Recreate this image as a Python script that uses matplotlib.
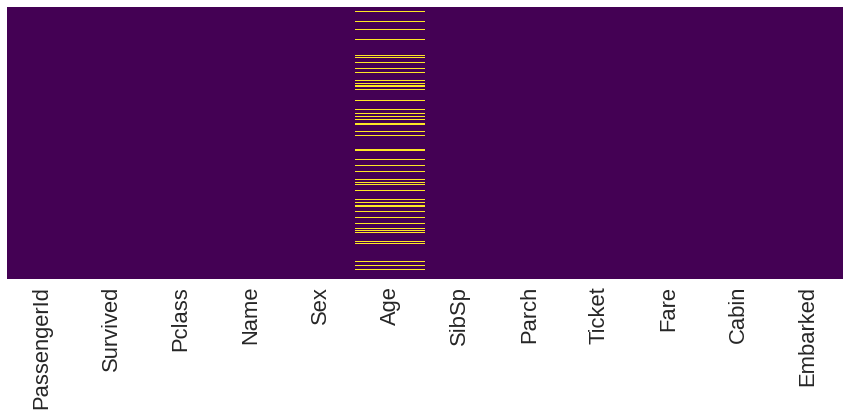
import numpy as np
import pandas as pd
import matplotlib
matplotlib.use("Agg")
import matplotlib.pyplot as plt

# Columns of the data frame shown in the missing-value map
columns = ["PassengerId", "Survived", "Pclass", "Name", "Sex", "Age",
           "SibSp", "Parch", "Ticket", "Fare", "Cabin", "Embarked"]

# Number of row slices (each visible horizontal slice of the map)
n_rows = 272

# Row slices in which "Age" is missing
age_missing_rows = [4, 14, 22, 32, 48, 50, 55, 61, 65, 73, 76, 78, 79, 82,
                    93, 102, 106, 109, 112, 116, 117, 124, 128, 142, 143,
                    152, 158, 164, 172, 175, 177, 183, 192, 195, 198, 199,
                    204, 210, 216, 221, 223, 225, 234, 236, 254, 258, 262]

missing = pd.DataFrame(False, index=range(n_rows), columns=columns)
missing.loc[age_missing_rows, "Age"] = True

W, H, DPI = 851, 419, 100
fig = plt.figure(figsize=(W / DPI, H / DPI), dpi=DPI)
ax = fig.add_axes([7 / W, (H - 279) / H, 836 / W, 272 / H])

ax.pcolormesh(missing.values.astype(int), cmap="viridis", vmin=0, vmax=1,
              antialiased=False, edgecolors="none", linewidth=0)
ax.set_xlim(0, len(columns))
ax.set_ylim(n_rows, 0)

ax.set_xticks(np.arange(len(columns)) + 0.5)
ax.set_xticklabels(columns, rotation=90, fontsize=15.8,
                   family=["Liberation Sans", "DejaVu Sans"], color="#262626")
ax.set_yticks([])
ax.tick_params(axis="x", length=0, pad=5)
for s in ax.spines.values():
    s.set_visible(False)

fig.savefig("out.png", dpi=DPI)
